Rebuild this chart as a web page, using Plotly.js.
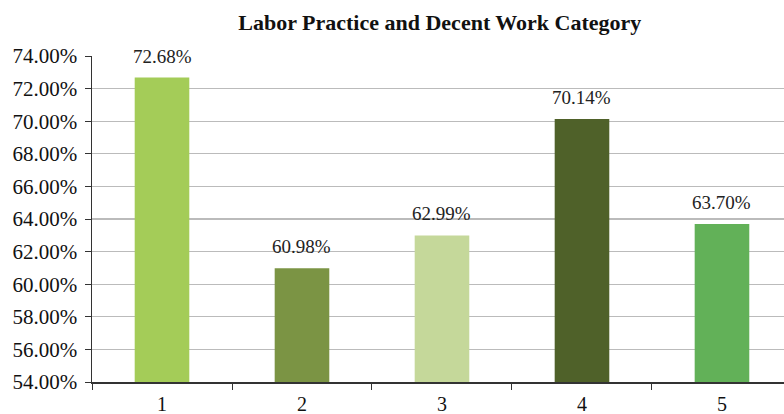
<!DOCTYPE html>
<html>
<head>
<meta charset="utf-8">
<script src="https://cdn.plot.ly/plotly-3.0.1.min.js"></script>
<style>html,body{margin:0;padding:0;background:#fff;}#chart{width:784px;height:414px;}</style>
</head>
<body>
<div id="chart"></div>
<script>
const categories = ["1", "2", "3", "4", "5"];
const values = [72.68, 60.98, 62.99, 70.14, 63.70];
const barColors = ["#a4cc58", "#7b9444", "#c5d89a", "#4f6129", "#62b158"];
const yTickVals = [54, 56, 58, 60, 62, 64, 66, 68, 70, 72, 74];
const yTickText = yTickVals.map(v => v.toFixed(2) + "%");
const labels = values.map(v => v.toFixed(2) + "%");

const serif = "Liberation Serif, Times New Roman, serif";

// category axis: annotation x given as category index
const annotations = categories.map((c, i) => ({
  x: i, y: values[i], xref: "x", yref: "y",
  text: labels[i], showarrow: false,
  yanchor: "bottom", yshift: 9,
  font: {family: serif, size: 19, color: "#222"}
}));

Plotly.newPlot("chart", [{
  type: "bar",
  x: categories,
  y: values,
  marker: {color: barColors},
  hoverinfo: "none"
}], {
  width: 784,
  height: 414,
  margin: {l: 92, r: 0, t: 56, b: 32},
  paper_bgcolor: "#fff",
  plot_bgcolor: "#fff",
  bargap: 0.61,
  showlegend: false,
  annotations: annotations,
  title: {
    text: "<b>Labor Practice and Decent Work Category</b>",
    font: {family: serif, size: 22, color: "#111"},
    x: 0.561, xanchor: "center", y: 0.945, yanchor: "middle"
  },
  xaxis: {
    type: "category",
    range: [-0.5, 4.443],
    tickson: "boundaries",
    ticks: "outside",
    ticklen: 6,
    tickcolor: "#333",
    showline: true,
    linecolor: "#333",
    linewidth: 1.5,
    showgrid: false,
    tickfont: {family: serif, size: 20, color: "#111"},
    ticklabelstandoff: 3,
    fixedrange: true
  },
  yaxis: {
    range: [54, 74],
    tickvals: yTickVals,
    ticktext: yTickText,
    ticks: "outside",
    ticklen: 6,
    tickcolor: "#333",
    showline: true,
    linecolor: "#333",
    linewidth: 1.5,
    showgrid: true,
    gridcolor: "#bbbbbb",
    gridwidth: 1.2,
    zeroline: false,
    tickfont: {family: serif, size: 21, color: "#111"},
    ticklabelstandoff: 3,
    fixedrange: true
  }
}, {staticPlot: true});
</script>
</body>
</html>
